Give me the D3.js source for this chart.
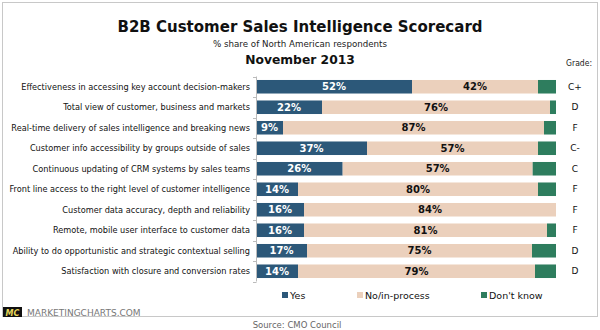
<!DOCTYPE html>
<html><head><meta charset="utf-8">
<script src="https://cdn.jsdelivr.net/npm/d3@7"></script>
<style>
html,body{margin:0;padding:0;background:#fff;}
svg{display:block;}
text{font-family:"DejaVu Sans",Verdana,sans-serif;}
</style></head>
<body>
<svg id="c" width="600" height="330"></svg>
<script>
const categories = [
  "Effectiveness in accessing key account decision-makers",
  "Total view of customer, business and markets",
  "Real-time delivery of sales intelligence and breaking news",
  "Customer info accessibility by groups outside of sales",
  "Continuous updating of CRM systems by sales teams",
  "Front line access to the right level of customer intelligence",
  "Customer data accuracy, depth and reliability",
  "Remote, mobile user interface to customer data",
  "Ability to do opportunistic and strategic contextual selling",
  "Satisfaction with closure and conversion rates"
];
const yesValues = [52, 22, 9, 37, 26, 14, 16, 16, 17, 14];
const noValues  = [42, 76, 87, 57, 57, 80, 84, 81, 75, 79];
const dkValues  = [6, 2, 4, 6, 7, 6, 0, 3, 8, 7];
const grades = ["C+", "D", "F", "C-", "C", "F", "F", "F", "D", "D"];
const seriesNames = ["Yes", "No/in-process", "Don't know"];
const colors = ["#2c5879", "#ebd0bc", "#2e7d5e"];

const COND = "'DejaVu Sans Condensed','DejaVu Sans',sans-serif";
const svg = d3.select("#c");

// frame
svg.append("rect").attr("x",2.5).attr("y",2.5).attr("width",595).attr("height",314)
  .attr("fill","#fff").attr("stroke","#c8c8c8").attr("stroke-width",1);

// titles
svg.append("text").attr("x",300).attr("y",32).attr("text-anchor","middle")
  .attr("font-size",15).attr("font-weight","bold").attr("fill","#111")
  .text("B2B Customer Sales Intelligence Scorecard");
svg.append("text").attr("x",300).attr("y",47).attr("text-anchor","middle")
  .attr("font-size",8.7).attr("fill","#222")
  .text("% share of North American respondents");
svg.append("text").attr("x",300).attr("y",64).attr("text-anchor","middle")
  .attr("font-size",12.3).attr("font-weight","bold").attr("fill","#111")
  .text("November 2013");
svg.append("text").attr("x",592).attr("y",66).attr("text-anchor","end")
  .style("font-family",COND).attr("font-size",8.5).attr("fill","#222").text("Grade:");

const data = categories.map((c,i)=>({cat:c, yes:yesValues[i], no:noValues[i], dk:dkValues[i], grade:grades[i]}));
const keys = ["yes","no","dk"];
const stack = d3.stack().keys(keys).offset(d3.stackOffsetExpand);
const series = stack(data);

const x = d3.scaleLinear().domain([0,1]).range([256,556]);
const y = d3.scaleBand().domain(categories).range([76.5,281.5]).paddingInner(0.34).paddingOuter(0.17);

const g = svg.append("g");
series.forEach((s,si)=>{
  g.selectAll(null).data(s).enter().append("rect")
    .attr("x",d=>x(d[0])).attr("width",d=>Math.max(0,x(d[1])-x(d[0])))
    .attr("y",d=>y(d.data.cat)).attr("height",y.bandwidth())
    .attr("fill",colors[si]);
});
// value labels
series.slice(0,2).forEach((s,si)=>{
  g.selectAll(null).data(s).enter().append("text")
    .attr("x",d=>(x(d[0])+x(d[1]))/2)
    .attr("y",d=>y(d.data.cat)+y.bandwidth()/2)
    .attr("dy","0.36em").attr("text-anchor","middle")
    .attr("font-size",10).attr("font-weight","bold")
    .attr("fill",si===0?"#fff":"#111")
    .text(d=>d.data[keys[si]]+"%");
});

// axis
const yAxis = d3.axisLeft(y).tickSize(0).tickPadding(6);
const ax = svg.append("g").attr("transform","translate(256,0)").call(yAxis);
ax.select(".domain").remove();
ax.selectAll("text").attr("font-size",9.1).attr("fill","#111").style("font-family",COND);
svg.append("line").attr("x1",256.5).attr("x2",256.5).attr("y1",y.range()[0]).attr("y2",y.range()[1])
  .attr("stroke","#bbb");
const bounds = categories.map(c=>y(c)-y.step()*y.paddingInner()/2).concat([y.range()[1]]);
svg.selectAll(null).data(bounds).enter().append("line")
  .attr("x1",253).attr("x2",256.5).attr("y1",d=>Math.round(d)+0.5).attr("y2",d=>Math.round(d)+0.5)
  .attr("stroke","#bbb");

// grades
svg.selectAll(null).data(data).enter().append("text")
  .attr("x",575).attr("y",d=>y(d.cat)+y.bandwidth()/2).attr("dy","0.36em")
  .attr("text-anchor","middle").attr("font-size",9).attr("fill","#111").text(d=>d.grade);

// legend
const legX = [282, 357, 481];
seriesNames.forEach((n,i)=>{
  svg.append("rect").attr("x",legX[i]).attr("y",292).attr("width",6).attr("height",6).attr("fill",colors[i]);
  svg.append("text").attr("x",legX[i]+8).attr("y",298.5).attr("font-size",9.5).attr("fill","#111").text(n);
});

// footer
svg.append("rect").attr("x",3).attr("y",307).attr("width",19).attr("height",10).attr("fill","#111");
svg.append("text").attr("x",12.5).attr("y",315.5).attr("text-anchor","middle").attr("font-size",8)
  .attr("font-weight","bold").attr("font-style","italic").attr("fill","#e8d85a").text("MC");
svg.append("text").attr("x",27).attr("y",316).attr("font-size",9).attr("fill","#777").text("MARKETINGCHARTS.COM");
svg.append("text").attr("x",297).attr("y",328).attr("text-anchor","middle").attr("font-size",8.5).attr("fill","#666").text("Source: CMO Council");
</script>
</body></html>
